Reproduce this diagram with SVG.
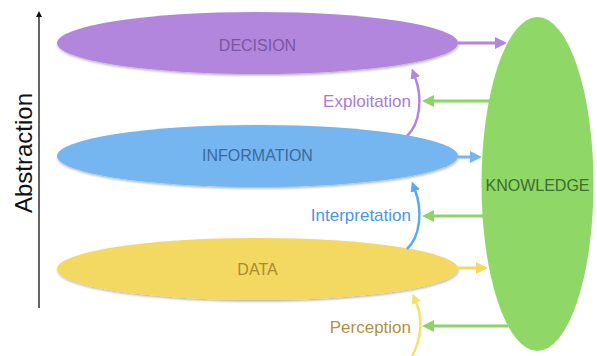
<svg xmlns="http://www.w3.org/2000/svg" width="597" height="356" viewBox="0 0 597 356">
  <defs>
    <style>
      text { font-family: "Liberation Sans", Arial, sans-serif; }
      .node-label { font-size: 16px; text-anchor: middle; }
      .edge-label { font-size: 17px; text-anchor: end; }
      .straight { fill: none; stroke-width: 3; }
      .curve { fill: none; stroke-width: 2.5; }
    </style>
    <filter id="shadow" x="-5%" y="-20%" width="110%" height="150%">
      <feDropShadow dx="0.5" dy="1.5" stdDeviation="1" flood-color="#000" flood-opacity="0.3"/>
    </filter>
    <marker id="hPurple" viewBox="0 0 12 12" refX="2" refY="6" markerWidth="12" markerHeight="12" markerUnits="userSpaceOnUse" orient="auto">
      <path d="M0,0 L12,6 L0,12 z" fill="#b386de"/>
    </marker>
    <marker id="hBlue" viewBox="0 0 12 12" refX="2" refY="6" markerWidth="12" markerHeight="12" markerUnits="userSpaceOnUse" orient="auto">
      <path d="M0,0 L12,6 L0,12 z" fill="#74b5f0"/>
    </marker>
    <marker id="hYellow" viewBox="0 0 12 12" refX="2" refY="6" markerWidth="12" markerHeight="12" markerUnits="userSpaceOnUse" orient="auto">
      <path d="M0,0 L12,6 L0,12 z" fill="#f3d862"/>
    </marker>
    <marker id="hGreen" viewBox="0 0 12 12" refX="2" refY="6" markerWidth="12" markerHeight="12" markerUnits="userSpaceOnUse" orient="auto">
      <path d="M0,0 L12,6 L0,12 z" fill="#8cd565"/>
    </marker>
    <marker id="cPurple" viewBox="0 0 10 10" refX="1" refY="5" markerWidth="10" markerHeight="10" markerUnits="userSpaceOnUse" orient="auto">
      <path d="M0,0 L10,5 L0,10 z" fill="#b386de"/>
    </marker>
    <marker id="cBlue" viewBox="0 0 10 10" refX="1" refY="5" markerWidth="10" markerHeight="10" markerUnits="userSpaceOnUse" orient="auto">
      <path d="M0,0 L10,5 L0,10 z" fill="#5aaaf0"/>
    </marker>
    <marker id="cYellow" viewBox="0 0 10 10" refX="1" refY="5" markerWidth="10" markerHeight="10" markerUnits="userSpaceOnUse" orient="auto">
      <path d="M0,0 L10,5 L0,10 z" fill="#f7df6c"/>
    </marker>
    <marker id="hBlack" viewBox="0 0 6 6" refX="1" refY="3" markerWidth="6" markerHeight="6" markerUnits="userSpaceOnUse" orient="auto">
      <path d="M0,0 L6,3 L0,6 z" fill="#111"/>
    </marker>
  </defs>

  <rect width="597" height="356" fill="#ffffff"/>

  <g id="axis">
    <line x1="39" y1="308" x2="39" y2="16" stroke="#111" stroke-width="1.3" marker-end="url(#hBlack)"/>
    <text transform="translate(32,153) rotate(-90)" font-size="24" text-anchor="middle" fill="#111">Abstraction</text>
  </g>

  <g id="knowledge">
    <ellipse cx="537.5" cy="184" rx="56" ry="167" fill="#8fd766"/>
    <text class="node-label" x="537.5" y="191" font-size="16.5" fill="#3e6d2e">KNOWLEDGE</text>
  </g>

  <g id="decision">
    <ellipse cx="257.5" cy="43" rx="200.5" ry="31" fill="#b386de" filter="url(#shadow)"/>
    <text class="node-label" x="257.5" y="50.5" fill="#7a55a3">DECISION</text>
  </g>

  <g id="information">
    <ellipse cx="257.5" cy="156" rx="200.5" ry="31" fill="#74b5f0" filter="url(#shadow)"/>
    <text class="node-label" x="257.5" y="161" fill="#3b6a9d">INFORMATION</text>
  </g>

  <g id="data">
    <ellipse cx="257.5" cy="269" rx="200.5" ry="31" fill="#f3d862" filter="url(#shadow)"/>
    <text class="node-label" x="257.5" y="275" fill="#a98a2c">DATA</text>
  </g>

  <g id="connectors">
    <path class="straight" d="M458,43 L497,43" stroke="#b386de" marker-end="url(#hPurple)"/>
    <path class="straight" d="M458,157 L472,157" stroke="#74b5f0" marker-end="url(#hBlue)"/>
    <path class="straight" d="M458,268 L478,268" stroke="#f3d862" marker-end="url(#hYellow)"/>

    <path class="straight" d="M490,101 L432,101" stroke="#8cd565" marker-end="url(#hGreen)"/>
    <path class="straight" d="M484,216 L432,216" stroke="#8cd565" marker-end="url(#hGreen)"/>
    <path class="straight" d="M508,326 L432,326" stroke="#8cd565" marker-end="url(#hGreen)"/>

    <path class="curve" d="M407,136 C420,124 423,98 415,77" stroke="#b386de" marker-end="url(#cPurple)"/>
    <path class="curve" d="M407,249 C420,237 423,211 415,190" stroke="#5aaaf0" marker-end="url(#cBlue)"/>
    <path class="curve" d="M410,360 C422,340 423,318 416,302" stroke="#f7df6c" marker-end="url(#cYellow)"/>
  </g>

  <g id="labels">
    <text class="edge-label" x="411" y="107" fill="#a77dd4">Exploitation</text>
    <text class="edge-label" x="411" y="221" fill="#4a97e0">Interpretation</text>
    <text class="edge-label" x="411" y="333" fill="#b48f3e">Perception</text>
  </g>
</svg>
